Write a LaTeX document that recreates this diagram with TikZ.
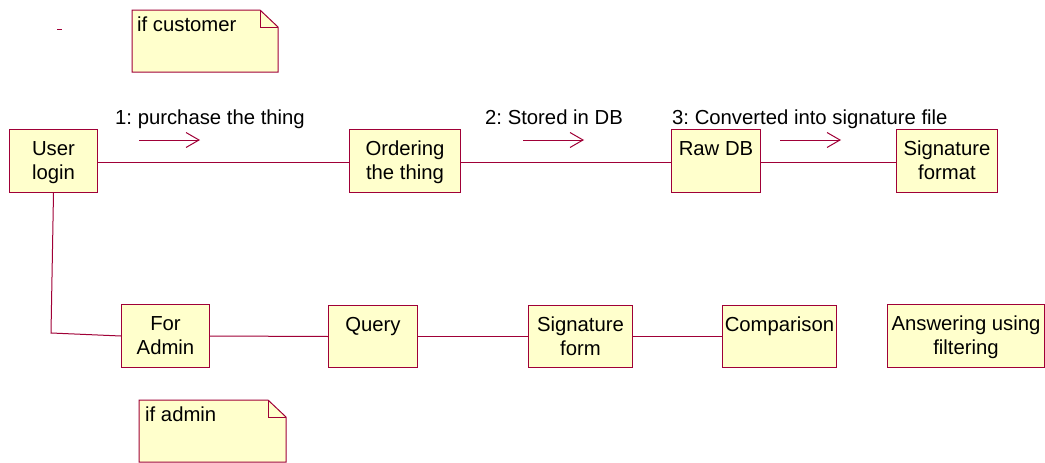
\documentclass[tikz,border=0pt]{standalone}
\usepackage{fontspec}
\setmainfont{Liberation Sans}
\usetikzlibrary{arrows.meta}
\definecolor{umlline}{RGB}{160,0,55}
\definecolor{umlfill}{RGB}{255,255,204}
\newcommand\bxtext[3]{\parbox[c][#2][t]{#1}{\centering\rule{0pt}{26pt}#3}}
\tikzset{
  umlbox/.style={draw=umlline, fill=umlfill, line width=1pt, inner sep=0pt, anchor=north west},
  conn/.style={draw=umlline, line width=1pt},
  msgarrow/.style={draw=umlline, line width=1pt, -{Straight Barb[length=13pt,width=15pt,line width=1pt]}},
  notebox/.style={draw=umlline, fill=umlfill, line width=1pt, line join=miter},
  txt/.style={inner sep=0pt, anchor=base west}
}
\frenchspacing
\begin{document}
\begin{tikzpicture}[x=1pt,y=-1pt,font=\fontsize{20.3}{24}\selectfont]
\useasboundingbox (0,0) rectangle (1045,463);
\fill[white] (0,0) rectangle (1045,463);

% notes
\path[notebox] (132,10) -- (260,10) -- (278,27) -- (278,72) -- (132,72) -- cycle;
\draw[umlline, line width=1pt] (260,10) -- (260,27) -- (278,27);
\node[txt] (n1) at (137,31) {if customer};

\path[notebox] (139,400) -- (268,400) -- (286,417) -- (286,462) -- (139,462) -- cycle;
\draw[umlline, line width=1pt] (268,400) -- (268,417) -- (286,417);
\node[txt] (n2) at (145,421) {if admin};

% stray dash
\draw[umlline, line width=1pt] (57,29) -- (62,29);

% row 1
\node[umlbox] (ul) at (9,129) {\bxtext{88pt}{63pt}{User\\login}};
\node[umlbox] (ot) at (349,129) {\bxtext{111pt}{63pt}{Ordering\\the thing}};
\node[umlbox] (rd) at (671,129) {\bxtext{89pt}{63pt}{Raw DB}};
\node[umlbox] (sf) at (896,129) {\bxtext{101pt}{63pt}{Signature\\format}};

% row 2
\node[umlbox] (fa) at (121,304) {\bxtext{88pt}{63pt}{For\\Admin}};
\node[umlbox] (qu) at (328,305) {\bxtext{89pt}{62pt}{Query}};
\node[umlbox] (sg) at (528,305) {\bxtext{104pt}{62pt}{Signature\\form}};
\node[umlbox] (cm) at (722,305) {\bxtext{114pt}{62pt}{Comparison}};
\node[umlbox] (an) at (887,304) {\bxtext{157pt}{63pt}{Answering using\\filtering}};

% connectors
\draw[conn] ([yshift=-1.5pt]ul.east) -- ([yshift=-1.5pt]ot.west);
\draw[conn] ([yshift=-1.5pt]ot.east) -- ([yshift=-1.5pt]rd.west);
\draw[conn] ([yshift=-1.5pt]rd.east) -- ([yshift=-1.5pt]sf.west);
\coordinate (bend) at (51,333);
\draw[conn] (ul.south) -- (bend) -- (fa.west);
\draw[conn] (fa.east) -- (qu.west);
\draw[conn] (qu.east) -- (sg.west);
\draw[conn] (sg.east) -- (cm.west);

% messages
\node[txt] (m1) at (115,124) {1: purchase the thing};
\node[txt] (m2) at (485,124) {2: Stored in DB};
\node[txt] (m3) at (672,124) {3: Converted into signature file};
\coordinate (a1s) at (139,140); \coordinate (a1e) at (200,140);
\coordinate (a2s) at (523,140); \coordinate (a2e) at (584,140);
\coordinate (a3s) at (780,140); \coordinate (a3e) at (841,140);
\draw[msgarrow] (a1s) -- (a1e);
\draw[msgarrow] (a2s) -- (a2e);
\draw[msgarrow] (a3s) -- (a3e);
\end{tikzpicture}
\end{document}
